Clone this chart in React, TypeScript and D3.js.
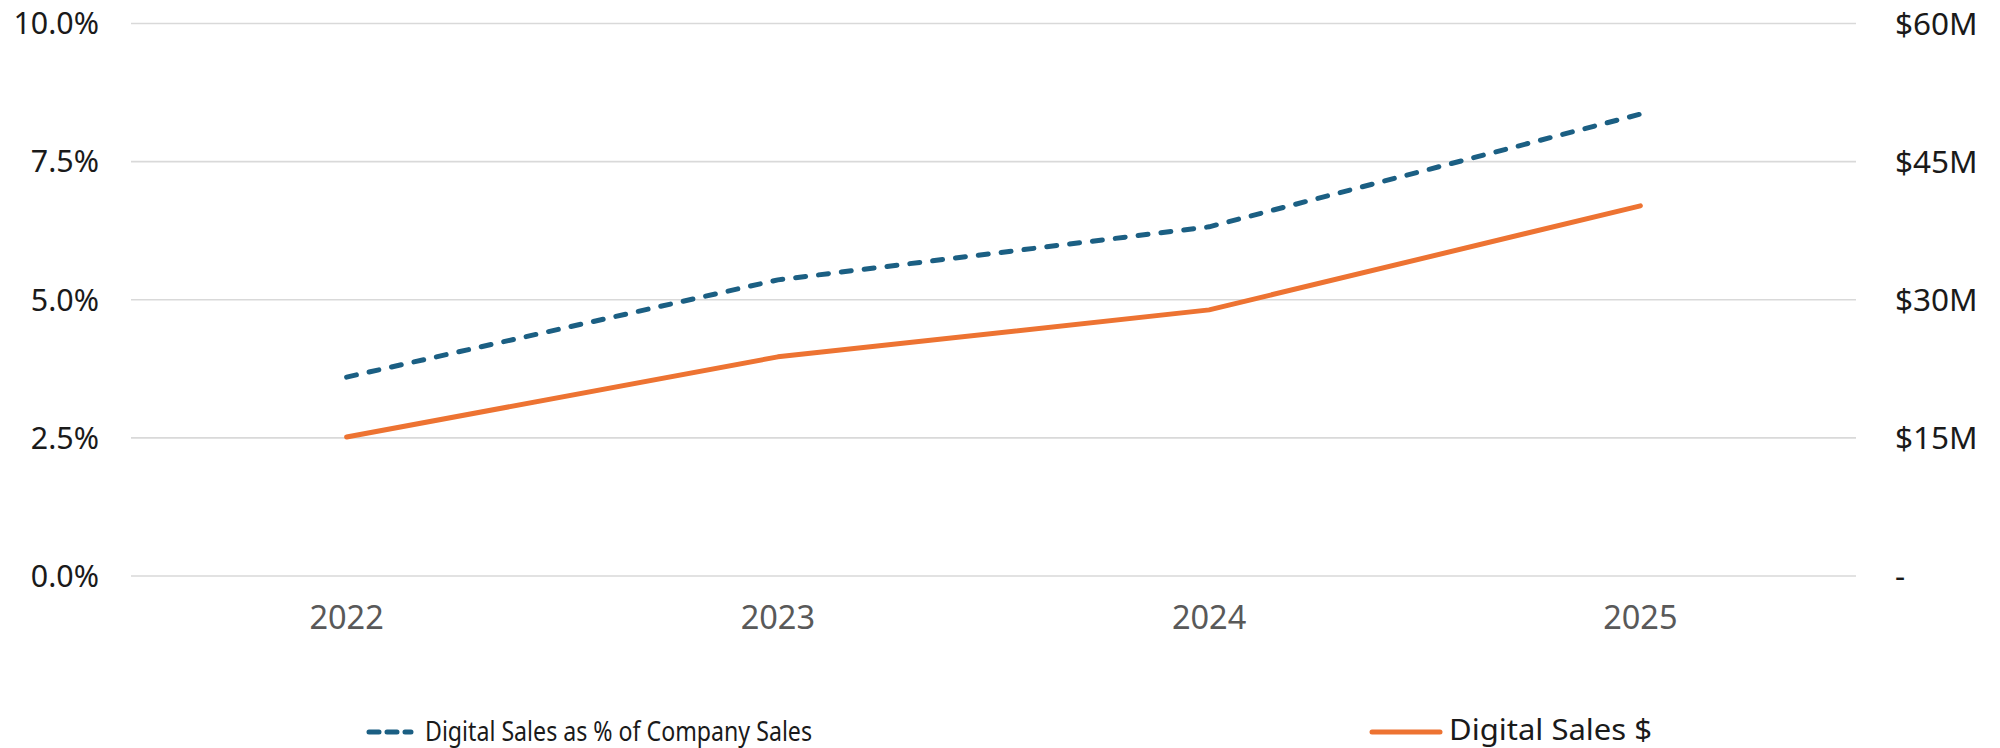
import React from "react";
import * as d3 from "d3";

const years = ["2022", "2023", "2024", "2025"];
const pctValues = [3.6, 5.36, 6.32, 8.36];
const dollarValues = [15.1, 23.8, 28.9, 40.2];
const leftTicks = [0, 2.5, 5, 7.5, 10];
const rightTicks = [0, 15, 30, 45, 60];
const seriesNames = ["Digital Sales as % of Company Sales", "Digital Sales $"];

const W = 2000;
const H = 748;

export default function App() {
  const x = d3.scaleBand<string>().domain(years).range([131, 1856]).padding(0);
  const cx = (d: string) => (x(d) as number) + x.bandwidth() / 2;
  const yL = d3.scaleLinear().domain([0, 10]).range([576, 23.5]);
  const yR = d3.scaleLinear().domain([0, 60]).range([576, 23.5]);

  const pctLine = d3
    .line<number>()
    .x((_, i) => cx(years[i]))
    .y((v) => yL(v));
  const dolLine = d3
    .line<number>()
    .x((_, i) => cx(years[i]))
    .y((v) => yR(v));

  const fmtL = (v: number) => v.toFixed(1) + "%";
  const fmtR = (v: number) => (v === 0 ? "-" : "$" + v + "M");
  const font = "'Noto Sans', sans-serif";

  return (
    <svg
      width={W}
      height={H}
      style={{ position: "absolute", left: 0, top: 0, background: "#fff" }}
    >
      {leftTicks.map((t) => (
        <line
          key={"g" + t}
          x1={131}
          x2={1856}
          y1={yL(t)}
          y2={yL(t)}
          stroke="#d9d9d9"
          strokeWidth={1.6}
        />
      ))}
      {leftTicks.map((t) => (
        <text
          key={"l" + t}
          x={99}
          y={yL(t) + 10.8}
          textAnchor="end"
          fontFamily={font}
          fontSize={30.4}
          fill="#1a1a1a"
        >
          {fmtL(t)}
        </text>
      ))}
      {rightTicks.map((t) => (
        <text
          key={"r" + t}
          x={1895}
          y={yR(t) + 11}
          textAnchor="start"
          fontFamily={font}
          fontSize={31.5}
          fill="#1a1a1a"
        >
          {fmtR(t)}
        </text>
      ))}
      {years.map((yr) => (
        <text
          key={"x" + yr}
          x={cx(yr)}
          y={628.5}
          textAnchor="middle"
          fontFamily={font}
          fontSize={32.5}
          fill="#595959"
        >
          {yr}
        </text>
      ))}
      <path
        d={dolLine(dollarValues) || ""}
        fill="none"
        stroke="#ed7332"
        strokeWidth={5}
        strokeLinecap="round"
        strokeLinejoin="round"
      />
      <path
        d={pctLine(pctValues) || ""}
        fill="none"
        stroke="#1b5f83"
        strokeWidth={5}
        strokeLinecap="round"
        strokeLinejoin="round"
        strokeDasharray="10 13"
      />
      {/* legend */}
      <line
        x1={369}
        x2={411}
        y1={732}
        y2={732}
        stroke="#1b5f83"
        strokeWidth={5}
        strokeLinecap="round"
        strokeDasharray="10 8"
      />
      <text
        x={425}
        y={741}
        fontFamily={font}
        fontSize={27.5}
        fill="#1a1a1a"
        textLength={387}
        lengthAdjust="spacingAndGlyphs"
      >
        {seriesNames[0]}
      </text>
      <line
        x1={1372}
        x2={1440}
        y1={732}
        y2={732}
        stroke="#ed7332"
        strokeWidth={5}
        strokeLinecap="round"
      />
      <text
        x={1449}
        y={739.5}
        fontFamily={font}
        fontSize={28.5}
        fill="#1a1a1a"
        textLength={203}
        lengthAdjust="spacingAndGlyphs"
      >
        {seriesNames[1]}
      </text>
    </svg>
  );
}
